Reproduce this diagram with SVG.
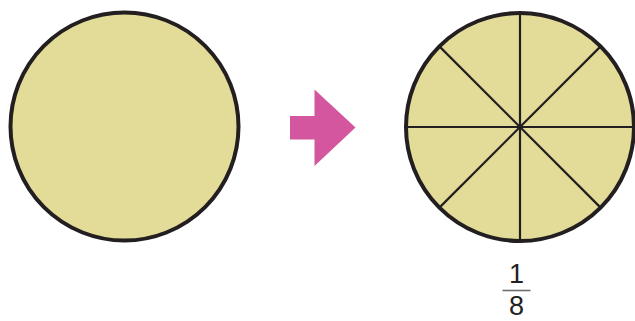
<svg xmlns="http://www.w3.org/2000/svg" width="635" height="321" viewBox="0 0 635 321">
<style>
.disc{fill:#E3DC99;stroke:#231F20;stroke-width:4}
.cut{stroke:#231F20;stroke-width:2.2;fill:none}
.num{font-family:"Liberation Sans",Arial,sans-serif;font-size:27px;fill:#231F20;text-anchor:middle}
</style>
<rect width="635" height="321" fill="#ffffff"/>
<g id="whole">
<circle class="disc" cx="124.5" cy="126.5" r="114"/>
</g>
<g id="arrow">
<polygon points="290,116 314.5,116 314.5,89.5 355.5,127.5 314.5,166 314.5,139.5 290,139.5" fill="#D3569F"/>
</g>
<g id="eighths">
<circle class="disc" cx="520" cy="127" r="114"/>
<g class="cut">
<line x1="520" y1="13" x2="520" y2="241"/>
<line x1="406" y1="127" x2="634" y2="127"/>
<line x1="439.4" y1="46.4" x2="600.6" y2="207.6"/>
<line x1="600.6" y1="46.4" x2="439.4" y2="207.6"/>
</g>
</g>
<g id="fraction">
<text class="num" x="516.5" y="282.5">1</text>
<line x1="502.5" y1="290.5" x2="530.5" y2="290.5" stroke="#6d6e70" stroke-width="1.6"/>
<text class="num" x="516.5" y="314.5">8</text>
</g>
</svg>
